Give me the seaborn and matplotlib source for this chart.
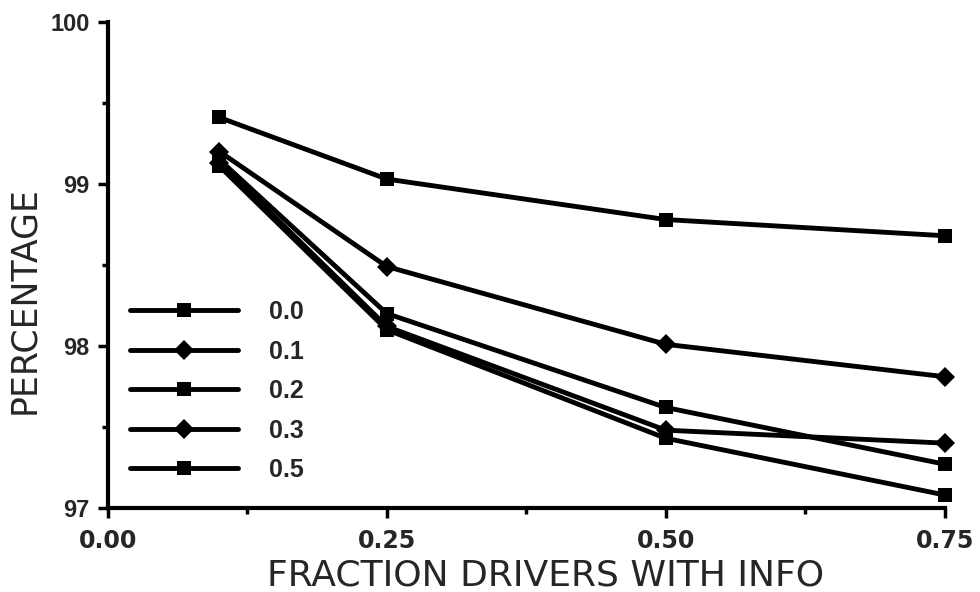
import matplotlib
matplotlib.use("Agg")
import matplotlib.pyplot as plt
import seaborn as sns
import pandas as pd
from matplotlib.ticker import MultipleLocator

fractions = [0.10, 0.25, 0.50, 0.75]
series_names = ["0.0", "0.1", "0.2", "0.3", "0.5"]
s00 = [99.41, 99.03, 98.78, 98.68]
s01 = [99.20, 98.49, 98.01, 97.81]
s02 = [99.15, 98.20, 97.62, 97.27]
s03 = [99.13, 98.12, 97.48, 97.40]
s05 = [99.11, 98.10, 97.43, 97.08]
series_values = [s00, s01, s02, s03, s05]
x_tick_labels = ["0.00", "0.25", "0.50", "0.75"]
y_tick_labels = ["97", "98", "99", "100"]

rows = []
for name, vals in zip(series_names, series_values):
    for f, v in zip(fractions, vals):
        rows.append({"fraction": f, "pct": v, "series": name})
df = pd.DataFrame(rows)

sns.set_theme(style="ticks")
plt.rcParams["font.family"] = ["Liberation Sans", "DejaVu Sans"]

fig = plt.figure(figsize=(9.8, 5.92), dpi=100)
ax = fig.add_axes([0.110, 0.142, 0.854, 0.821])

markers = {"0.0": "s", "0.1": "D", "0.2": "s", "0.3": "D", "0.5": "s"}
palette = {n: "black" for n in series_names}
sns.lineplot(data=df, x="fraction", y="pct", hue="series", style="series",
             markers=markers, dashes=False, palette=palette, ax=ax,
             linewidth=3.5, markersize=10.5, markeredgewidth=0, clip_on=False)

ax.set_xlim(0, 0.75)
ax.set_ylim(97, 100)
ax.xaxis.set_minor_locator(MultipleLocator(0.125))
ax.yaxis.set_minor_locator(MultipleLocator(0.5))
ax.set_xticks([0, 0.25, 0.5, 0.75])
ax.set_xticklabels(x_tick_labels, fontsize=17, fontweight="bold",
                   family=["DejaVu Sans"])
ax.set_yticks([97, 98, 99, 100])
ax.set_yticklabels(y_tick_labels, fontsize=17, fontweight="bold")

ax.tick_params(axis="both", which="major", direction="out", length=7, width=2.5,
               color="black")
ax.tick_params(axis="x", which="major", pad=8)
ax.tick_params(axis="y", which="major", pad=6)
ax.tick_params(axis="both", which="minor", direction="out", length=4, width=2.5,
               color="black")

for side in ["top", "right"]:
    ax.spines[side].set_visible(False)
for side in ["left", "bottom"]:
    ax.spines[side].set_linewidth(3)
    ax.spines[side].set_color("black")

ax.set_xlabel("FRACTION DRIVERS WITH INFO", fontsize=26, family=["DejaVu Sans"])
ax.set_ylabel("PERCENTAGE", fontsize=25, family=["DejaVu Sans"])
ax.xaxis.set_label_coords(0.523, -0.14)
ax.xaxis.label.set_verticalalignment("center")
ax.yaxis.set_label_coords(-0.100, 0.428)
ax.yaxis.label.set_verticalalignment("center")

handles, labels = ax.get_legend_handles_labels()
leg = ax.legend(handles, labels, loc="upper left", bbox_to_anchor=(0.015, 0.448),
                frameon=False, handlelength=4.3, handletextpad=1.25,
                labelspacing=0.62, fontsize=18, borderaxespad=0)
for t in leg.get_texts():
    t.set_fontweight("bold")

fig.savefig("out.png", dpi=100)
